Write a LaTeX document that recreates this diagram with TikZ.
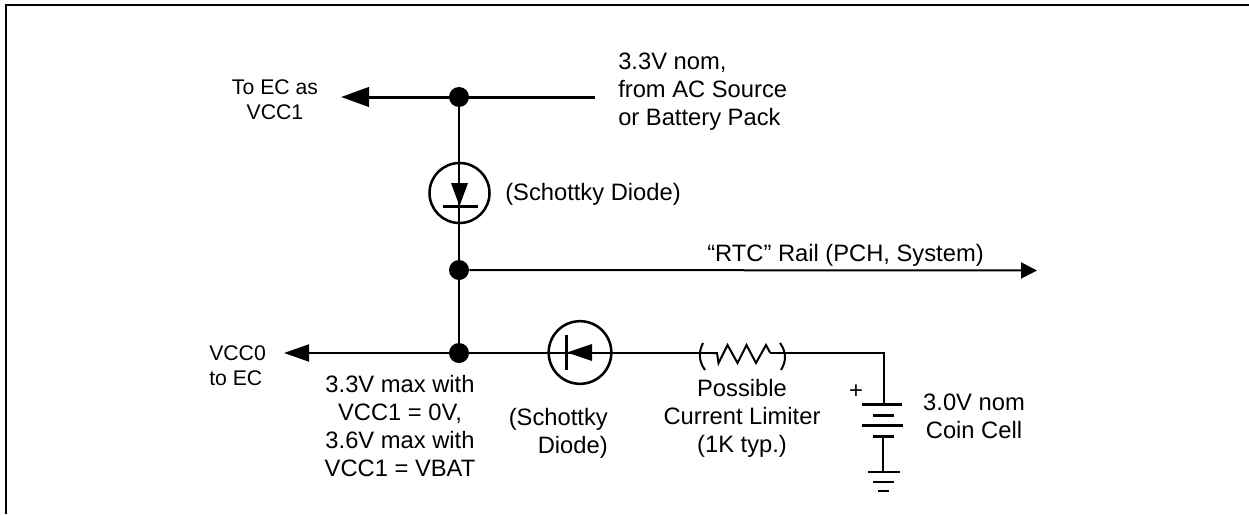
\documentclass[tikz,border=0pt]{standalone}
\usepackage{fontspec}
\setmainfont{Liberation Sans}
\usetikzlibrary{arrows.meta,
                positioning
            }
\tikzset{
    wire/.style={line width=1.5pt},
    railwire/.style={line width=2.25pt},
    plate/.style={line width=2.25pt},
    joint/.style={circle, fill=black, inner sep=0pt, minimum size=15pt},
    diodering/.style={circle, draw, line width=1.9pt, inner sep=0pt},
    lbl/.style={inner sep=0pt, align=center, font=\fontsize{17.8}{21}\selectfont},
    smalllbl/.style={inner sep=0pt, font=\fontsize{15.9}{19}\selectfont}
}

\begin{document}
\begin{tikzpicture}[x=0.75pt, y=-0.75pt]
            \useasboundingbox (0, 0) rectangle (1249, 514);
            \draw[wire] (6, 514) -- (6, 5) -- (1249, 5);

            \node[joint] (topjoint) at (459, 97) {};
            \node[joint] (midjoint) at (459, 270) {};
            \node[joint] (lowjoint) at (459, 353) {};
            \coordinate (toptip) at (341, 97);
            \coordinate (topend) at (595, 97);
            \coordinate (railtip) at (1037, 270.5);
            \coordinate (lowtip) at (284, 353);

            \draw[railwire, -{Triangle[length=21pt, width=14.5pt]}] (topend) -- (toptip);
            \draw[wire, -{Triangle[length=12pt, width=12pt]}] (midjoint) -- (railtip);
            \draw[wire, -{Triangle[length=18.75pt, width=12.75pt]}] (lowjoint) -- (lowtip);
            \draw[wire] (topjoint) -- (midjoint);
            \draw[wire] (midjoint) -- (lowjoint);

            % upper diode
            \node[diodering, minimum size=45pt] (upperdiode) at (459.5, 193) {};
            \coordinate (upperbarL) at (443, 206);
            \coordinate (upperbarR) at (478, 206);
            \draw[plate] (upperbarL) -- (upperbarR);
            \fill (451, 183) -- (468, 183) -- (459.5, 206) -- cycle;

            % lower diode, limiter and cell
            \node[diodering, minimum size=47pt] (lowerdiode) at (580, 352.5) {};
            \coordinate (limiterL) at (712, 353);
            \coordinate (limiterR) at (770, 352.5);
            \coordinate (cellcorner) at (884, 352.5);
            \coordinate (celltop) at (884, 404);
            \coordinate (cellend) at (883, 436);
            \coordinate (groundtop) at (883, 472);
            \draw[wire] (lowjoint) -- (limiterL);
            \draw[wire] (limiterL) -- (717, 353) -- (718.5, 363) -- (727.5, 345) -- (737.5, 363) -- (746.5, 345) -- (756, 363) -- (766, 345) -- (limiterR);
            \draw[wire] (limiterR) -- (cellcorner) -- (celltop);
            \draw[wire] (cellend) -- (groundtop);
            \draw[plate] (566, 335) -- (566, 370);
            \fill (592, 344) -- (592, 361) -- (567, 352.5) -- cycle;
            \draw[wire] (703, 343) .. controls (698.5, 352) and (698.5, 361) .. (705, 370);
            \draw[wire] (780, 343) .. controls (786.5, 352) and (786.5, 361) .. (781, 370);

            \draw[plate] (862, 404) -- (902, 404);
            \draw[plate] (873, 415) -- (894, 415);
            \draw[plate] (862, 425) -- (903, 425);
            \draw[plate] (873, 436) -- (894, 436);
            \draw[wire] (868, 472) -- (900, 472);
            \draw[wire] (873, 482) -- (894, 482);
            \draw[wire] (878, 491) -- (889, 491);

            \node[smalllbl, align=center] (toec) at (275, 100) {To EC as\\VCC1};
            \node[lbl, align=left, anchor=west] (source) at (618, 92) {3.3V nom,\\from AC Source\\or Battery Pack};
            \node[lbl, anchor=west] (uppername) at (505, 194) {(Schottky Diode)};
            \node[lbl, anchor=west] (rtcrail) at (707, 255) {“RTC” Rail (PCH, System)};
            \node[smalllbl, align=left, anchor=west] (vcczero) at (209, 366) {VCC0\\to EC};
            \node[lbl] (maxnote) at (400, 426) {3.3V max with\\VCC1 = 0V,\\3.6V max with\\VCC1 = VBAT};
            \node[lbl, align=right, anchor=east] (lowername) at (608, 433) {(Schottky\\Diode)};
            \node[lbl] (limitnote) at (742, 418) {Possible\\Current Limiter\\(1K typ.)};
            \node[lbl] (plus) at (856, 392) {+};
            \node[lbl] (cellnote) at (974, 416) {3.0V nom\\Coin Cell};
        \end{tikzpicture}
\end{document}
